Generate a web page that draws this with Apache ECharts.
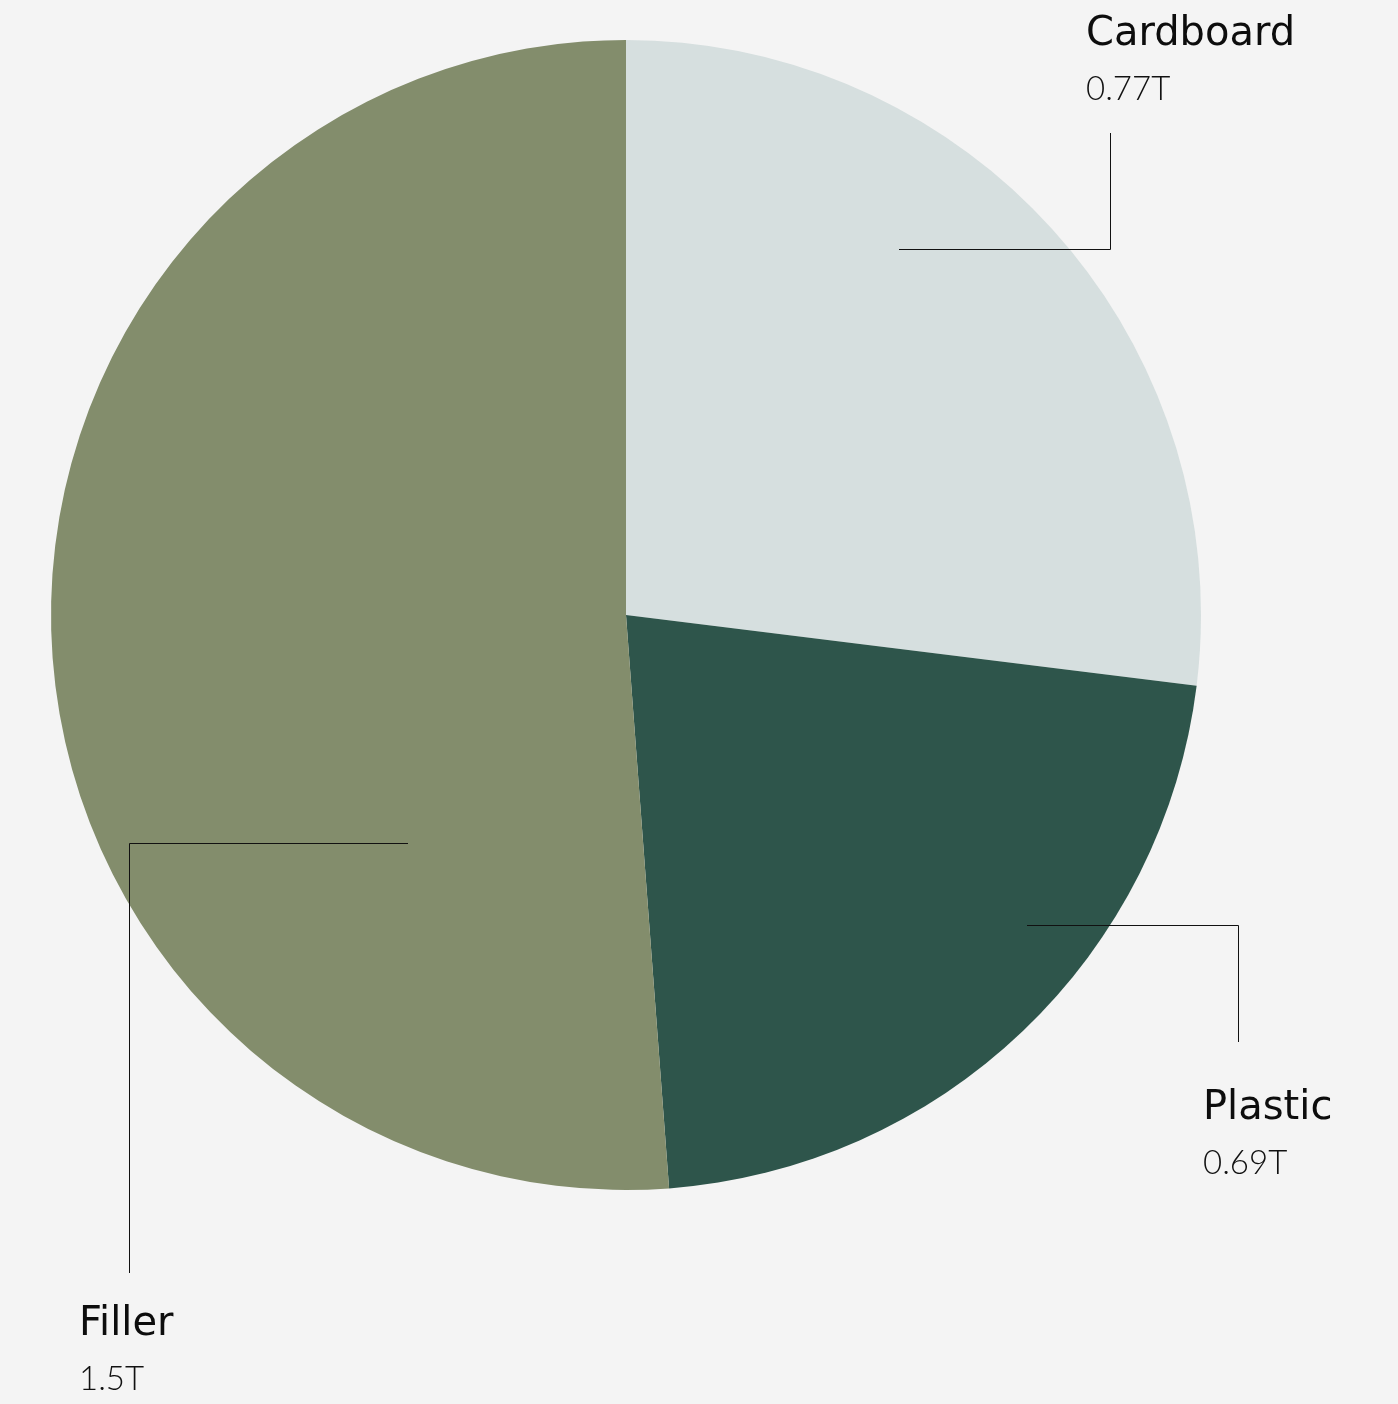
<!DOCTYPE html>
<html><head><meta charset="utf-8">
<script src="https://cdn.jsdelivr.net/npm/echarts@6/dist/echarts.min.js"></script>
<style>html,body{margin:0;padding:0;background:#f4f4f4}#c{width:1398px;height:1404px}</style>
</head><body><div id="c"></div>
<script>
// Data
const categories = ['Cardboard', 'Plastic', 'Filler'];
const values = [0.79, 0.64, 1.5];          // slice sizes as drawn
const valueLabels = ['0.77T', '0.69T', '1.5T']; // printed value labels
const colors = ['#d6dfdf', '#2e554b', '#838d6c'];

// Geometry / layout
const cx = 626, cy = 615, R = 575;
const layout = [
  { a: 36.7,  f: 0.794,  ex: 1110, ey: 133,  lx: 1086, ly: 8 },
  { a: 127.7, f: 0.8815, ex: 1238, ey: 1042, lx: 1203, ly: 1082 },
  { a: 223.7, f: 0.5486, ex: 129,  ey: 1273, lx: 79,   ly: 1298 }
];

const base = {
  type: 'pie',
  center: [cx, cy],
  radius: [0, R],
  startAngle: 90,
  clockwise: true,
  avoidLabelOverlap: false,
  silent: true,
  emphasis: { disabled: true }
};

const chart = echarts.init(document.getElementById('c'), null, { renderer: 'canvas' });
chart.setOption({
  backgroundColor: '#f4f4f4',
  animation: false,
  series: [
    Object.assign({}, base, {
      z: 2,
      data: categories.map((c, i) => ({ name: c, value: values[i], itemStyle: { color: colors[i] } })),
      label: { show: false },
      labelLine: { show: false }
    }),
    Object.assign({}, base, {
      z: 5,
      data: categories.map((c, i) => ({ name: c, value: values[i], itemStyle: { color: 'rgba(0,0,0,0)' } })),
      label: {
        show: true,
        position: 'outside',
        formatter: p => '{n|' + p.name + '}\n{v|' + valueLabels[p.dataIndex] + '}',
        rich: {
          n: { fontFamily: 'DejaVu Sans', fontSize: 40, fontWeight: 'normal', color: '#0d0d0d', lineHeight: 54, align: 'left' },
          v: { fontFamily: 'Lato', fontSize: 33, fontWeight: 300, color: '#111', lineHeight: 54, align: 'left' }
        }
      },
      labelLine: { show: true, lineStyle: { color: '#111', width: 1 } },
      labelLayout: function (params) {
        const L = layout[params.dataIndex];
        const ang = L.a * Math.PI / 180;
        const sx = Math.round(cx + Math.sin(ang) * L.f * R);
        const sy = Math.round(cy - Math.cos(ang) * L.f * R) + 0.5;
        const ex = L.ex + 0.5;
        return {
          x: L.lx, y: L.ly, align: 'left', verticalAlign: 'top',
          labelLinePoints: [[sx, sy], [ex, sy], [ex, L.ey]]
        };
      }
    })
  ]
});
</script></body></html>
